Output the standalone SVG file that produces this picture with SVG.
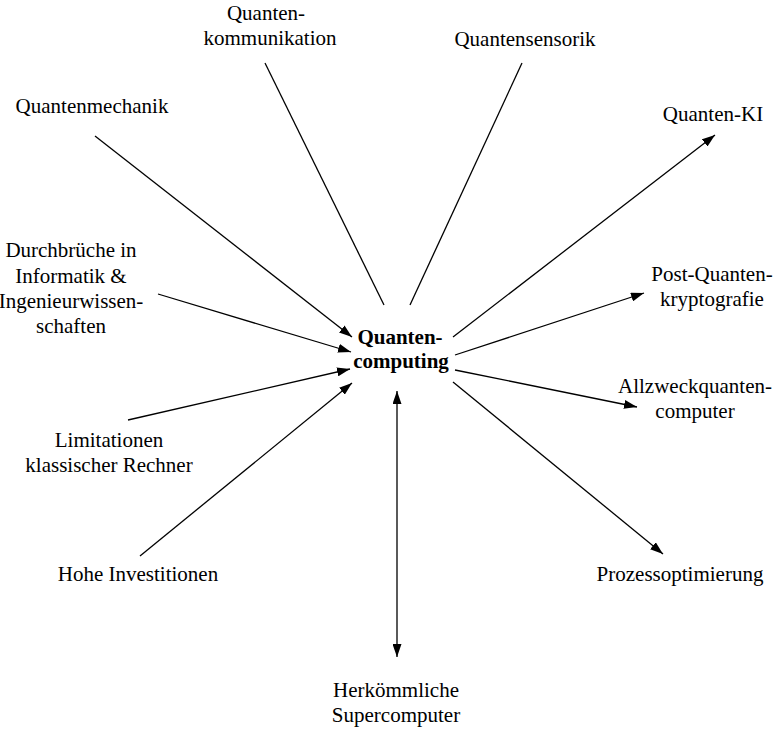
<svg xmlns="http://www.w3.org/2000/svg" width="775" height="730" viewBox="0 0 775 730">
<defs>
<marker id="ah" viewBox="0 0 13 9" refX="13" refY="4.5" markerWidth="13" markerHeight="9" markerUnits="userSpaceOnUse" orient="auto-start-reverse">
<path d="M0,0 L13,4.5 L0,9 z" fill="#000"/>
</marker>
<style>
text{font-family:"Liberation Serif","Times New Roman",serif;font-size:21px;fill:#000;text-anchor:middle}
.b{font-weight:bold}
.e{stroke:#000;stroke-width:1.3;fill:none}
.a{marker-end:url(#ah)}
.d{marker-start:url(#ah);marker-end:url(#ah)}
</style>
</defs>
<rect width="775" height="730" fill="#fff"/>
<g id="connectors">
<path class="e a" d="M95,136 L352,337"/>
<path class="e a" d="M158,294 L351,352"/>
<path class="e a" d="M128,420 L350,369"/>
<path class="e a" d="M140,556 L352,383"/>
<path class="e" d="M265,63 L384,305"/>
<path class="e" d="M522,63 L410,305"/>
<path class="e a" d="M453,337 L715,135"/>
<path class="e a" d="M455,355 L644,293"/>
<path class="e a" d="M455,370 L637,407"/>
<path class="e a" d="M453,382 L663,554"/>
<path class="e d" d="M397,391 L397,657"/>
</g>
<g id="n-center"><text class="b" x="400" y="344">Quanten-</text><text class="b" x="401" y="368">computing</text></g>
<g id="n-kommunikation"><text x="266" y="20">Quanten-</text><text x="270" y="45">kommunikation</text></g>
<g id="n-sensorik"><text x="525" y="46">Quantensensorik</text></g>
<g id="n-mechanik"><text x="92" y="113">Quantenmechanik</text></g>
<g id="n-ki"><text x="713" y="121">Quanten-KI</text></g>
<g id="n-durchbrueche"><text x="71" y="257">Durchbrüche in</text><text x="71" y="283">Informatik &amp;</text><text x="71" y="308">Ingenieurwissen-</text><text x="71" y="333">schaften</text></g>
<g id="n-limitationen"><text x="109" y="447">Limitationen</text><text x="109" y="472">klassischer Rechner</text></g>
<g id="n-investitionen"><text x="138" y="581">Hohe Investitionen</text></g>
<g id="n-postquanten"><text x="712" y="281">Post-Quanten-</text><text x="712" y="306">kryptografie</text></g>
<g id="n-allzweck"><text x="695" y="393">Allzweckquanten-</text><text x="695" y="418">computer</text></g>
<g id="n-prozess"><text x="680" y="581">Prozessoptimierung</text></g>
<g id="n-super"><text x="396" y="697">Herkömmliche</text><text x="396" y="722">Supercomputer</text></g>
</svg>
